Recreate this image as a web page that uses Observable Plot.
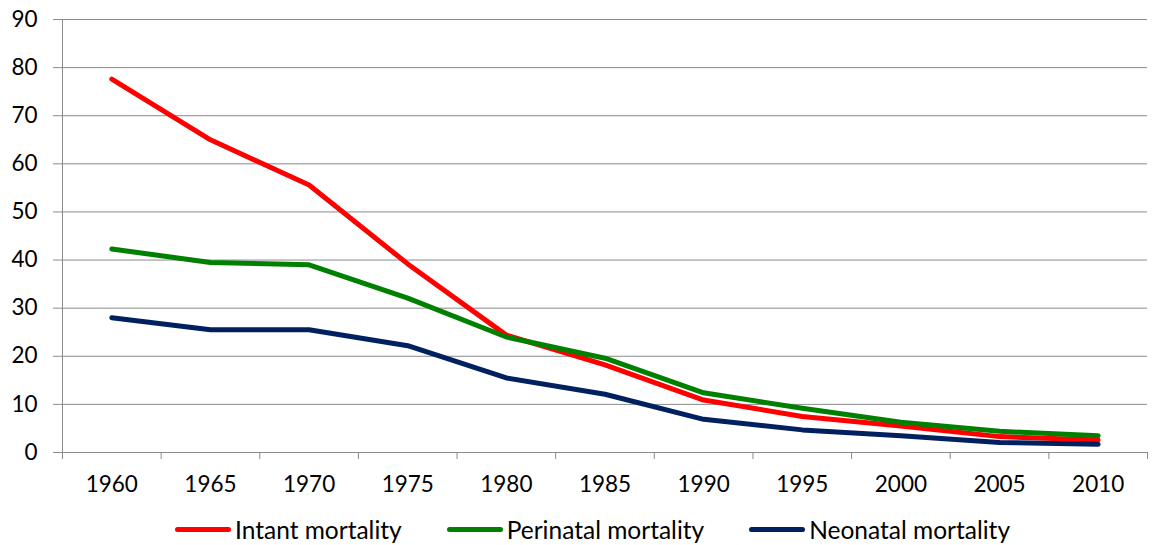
<!DOCTYPE html>
<html>
<head>
<meta charset="utf-8">
<script src="https://cdn.jsdelivr.net/npm/d3@7"></script>
<script src="https://cdn.jsdelivr.net/npm/@observablehq/plot@0.6"></script>
<style>
  html, body { margin: 0; padding: 0; background: #fff; }
  body { font-family: Lato, "Open Sans", sans-serif; width: 1152px; }
  #legend { display: flex; align-items: center; height: 40px; padding-top: 8px; padding-left: 175px; box-sizing: border-box; font-size: 24.5px; color: #000; }
  .item { display: flex; align-items: center; margin-right: 45px; }
  .sw { width: 56px; height: 5px; border-radius: 3px; margin-right: 4px; }
</style>
</head>
<body>
<div id="chart"></div>
<div id="legend"></div>
<script>
const years = [1960, 1965, 1970, 1975, 1980, 1985, 1990, 1995, 2000, 2005, 2010];
const infant = [77.6, 65.0, 55.6, 39.2, 24.4, 18.2, 10.9, 7.5, 5.5, 3.3, 2.6];
const perinatal = [42.3, 39.5, 39.0, 32.1, 24.0, 19.6, 12.4, 9.2, 6.3, 4.4, 3.5];
const neonatal = [28.0, 25.5, 25.5, 22.2, 15.5, 12.1, 6.9, 4.7, 3.5, 2.1, 1.7];
const seriesNames = ["Intant mortality", "Perinatal mortality", "Neonatal mortality"];
const seriesColors = ["#ff0000", "#008000", "#002060"];
const yTicks = [0, 10, 20, 30, 40, 50, 60, 70, 80, 90];

const seriesValues = [infant, perinatal, neonatal];
const rows = [];
seriesNames.forEach((name, i) => {
  years.forEach((yr, j) => rows.push({series: name, year: yr, value: seriesValues[i][j]}));
});
const step = years[1] - years[0];
const bounds = [...years.map(y => y - step / 2), years[years.length - 1] + step / 2];
const gray = "#8a8a8a";

const chart = Plot.plot({
  width: 1152,
  height: 505,
  marginLeft: 62,
  marginRight: 5,
  marginTop: 19,
  marginBottom: 53,
  style: {fontFamily: "Lato, 'Open Sans', sans-serif", fontSize: "22px", color: "#000", background: "#fff"},
  x: {domain: [bounds[0], bounds[bounds.length - 1]]},
  y: {domain: [0, 90]},
  color: {domain: seriesNames, range: seriesColors},
  marks: [
    Plot.gridY(yTicks, {stroke: gray, strokeOpacity: 1, strokeWidth: 1}),
    Plot.axisY({ticks: yTicks, tickSize: 9, tickPadding: 16, stroke: gray, label: null, fontSize: 22.5, fill: "#000"}),
    Plot.axisX({ticks: bounds, tickFormat: () => "", tickSize: 7, stroke: gray, label: null}),
    Plot.axisX({ticks: years, tickFormat: d => String(d), tickSize: 0, tickPadding: 24, label: null, fontSize: 22.5, fill: "#000"}),
    Plot.ruleX([bounds[0]], {stroke: gray, strokeWidth: 1}),
    Plot.ruleY([0], {stroke: gray, strokeWidth: 1}),
    Plot.line(rows, {x: "year", y: "value", z: "series", stroke: "series", strokeWidth: 5, strokeLinejoin: "round", strokeLinecap: "round"})
  ]
});
document.getElementById("chart").appendChild(chart);

const legend = document.getElementById("legend");
seriesNames.forEach((name, i) => {
  const item = document.createElement("div");
  item.className = "item";
  const sw = document.createElement("span");
  sw.className = "sw";
  sw.style.background = seriesColors[i];
  const t = document.createElement("span");
  t.textContent = name;
  item.appendChild(sw);
  item.appendChild(t);
  legend.appendChild(item);
});
</script>
</body>
</html>
